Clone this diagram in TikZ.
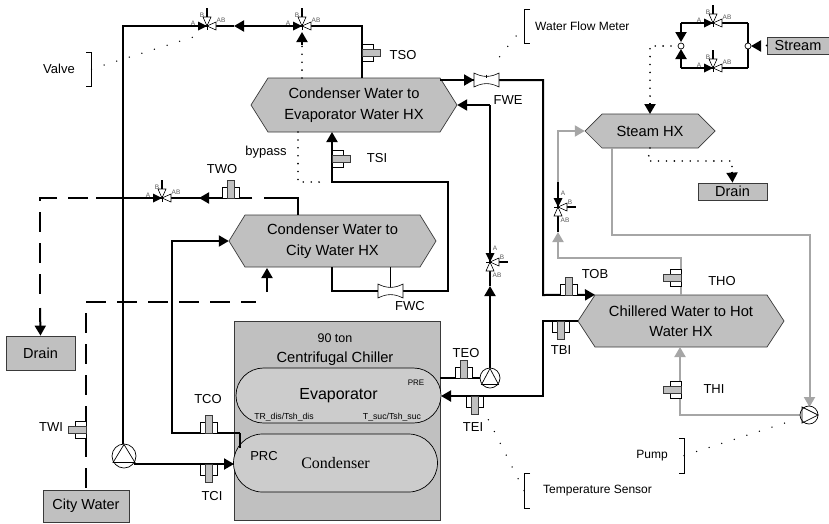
\documentclass[tikz,border=0pt]{standalone}
\usepackage{fontspec}
\setmainfont{Liberation Sans}
\newfontfamily\serifcond{Liberation Serif}
\usetikzlibrary{arrows.meta,shapes.misc}
\definecolor{hxgray}{HTML}{C0C0C0}
\definecolor{pillgray}{HTML}{CCCCCC}
\definecolor{hotpipe}{HTML}{A6A6A6}
\definecolor{edgegray}{HTML}{3A3A3A}
\tikzset{
  pipe/.style={line width=2pt,black},
  hotline/.style={line width=2pt,hotpipe},
  head/.style={-{Triangle[length=10pt,width=11pt]}},
  dashpipe/.style={line width=2pt,black,dash pattern=on 20pt off 11pt},
  dotline/.style={line width=1.8pt,black,line cap=round,dash pattern=on 0pt off 7.9pt},
  leaderdots/.style={line width=1.5pt,black,line cap=round,dash pattern=on 0pt off 13.2pt},
  bracketline/.style={line width=0.7pt,black},
  lab/.style={font=\fontsize{13}{15}\selectfont,inner sep=0pt},
  hxtext/.style={font=\fontsize{14.7}{20.5}\selectfont,align=center,inner sep=0pt},
  hxbody/.style={fill=hxgray,draw=edgegray,line width=0.7pt},
  boxnode/.style={fill=hxgray,draw=edgegray,line width=0.8pt,inner sep=0pt,font=\fontsize{14.5}{17}\selectfont},
  pill/.style={rounded rectangle,fill=pillgray,draw=black,line width=0.7pt,inner sep=0pt},
  sens/.style={draw=black,fill=white,line width=0.7pt},
  sensg/.style={draw=edgegray,fill=hxgray,line width=0.7pt},
  vlab/.style={font=\fontsize{6.5}{7}\selectfont,text=black!65,inner sep=0pt},
  tri/.style={draw=black,fill=white,line width=0.6pt},
  blk/.style={fill=black},
  pumpc/.style={circle,draw=black,fill=white,line width=0.7pt,inner sep=0pt},
  sensor/.pic={
    \draw[sens] (-8.5,0) rectangle (8.5,-11);
    \draw[sensg] (-3.5,0) rectangle (3.5,-18);
  },
  valveh/.pic={
    \draw[line width=2pt] (0,-9) -- (0,-18);
    \fill[blk] (-9,-4.5) -- (-9,4.5) -- (0,0) -- cycle;
    \draw[tri] (0,0) -- (-4,-9) -- (4,-9) -- cycle;
    \draw[tri] (0,0) -- (9,-4) -- (9,4) -- cycle;
    \draw[line width=0.5pt] (0,-2) -- (0,4);
    \node[vlab] at (-14,-3) {A};
    \node[vlab] at (-5,-11) {B};
    \node[vlab] at (14,-6) {AB};
  },
  valvev/.pic={
    \draw[line width=2pt] (9,0) -- (18,0);
    \fill[blk] (-4.5,-9) -- (4.5,-9) -- (0,0) -- cycle;
    \draw[tri] (0,0) -- (9,-4) -- (9,4) -- cycle;
    \draw[tri] (0,0) -- (-4,9) -- (4,9) -- cycle;
    \draw[line width=0.5pt] (-4,0) -- (2,0);
    \node[vlab] at (5,-14) {A};
    \node[vlab] at (12,-5) {B};
    \node[vlab] at (7,13) {AB};
  },
  meter/.pic={
    \draw[tri] (-12.5,-7) .. controls (-4,-2.5) and (4,-2.5) .. (12.5,-7) -- (12.5,7)
      .. controls (4,2.5) and (-4,2.5) .. (-12.5,7) -- cycle;
  },
}
\newcommand{\hexnode}[7]{%
  \draw[hxbody] ({#2-#4/2},#3) -- ({#2-#4/2+#6},{#3-#5/2}) -- ({#2+#4/2-#6},{#3-#5/2})
    -- ({#2+#4/2},#3) -- ({#2+#4/2-#6},{#3+#5/2}) -- ({#2-#4/2+#6},{#3+#5/2}) -- cycle;
  \node[hxtext,minimum width=#4 pt,minimum height=#5 pt] (#1) at (#2,#3) {#7};
}
\newcommand{\pumpup}[3]{% name, position, radius
  \node[pumpc,minimum size=#3 pt] (#1) at #2 {};
}
\begin{document}
\begin{tikzpicture}[x=1pt,y=-1pt]
\useasboundingbox (0,0) rectangle (829,523);

% ---------- vessels and heat exchangers
\hexnode{hxa}{354}{105}{206}{54}{17}{Condenser Water to\\Evaporator Water HX}
\hexnode{hxb}{332.5}{241}{207}{52}{16}{Condenser Water to\\City Water HX}
\hexnode{hxs}{650}{131}{130}{34}{17}{Steam HX}
\hexnode{hxc}{681}{321}{206}{52}{17}{Chillered Water to Hot\\Water HX}

\node[boxnode,minimum width=69pt,minimum height=34pt] (drainl) at (40.5,353) {Drain};
\node[boxnode,minimum width=86pt,minimum height=32pt] (city) at (86,506) {City Water};
\node[boxnode,minimum width=69pt,minimum height=17pt] (drainr) at (732.5,191.5) {Drain};
\node[boxnode,minimum width=62pt,minimum height=17pt] (stream) at (798,45.5) {Stream};

\node[fill=hxgray,draw=edgegray,line width=0.8pt,minimum width=206pt,minimum height=199pt,inner sep=0pt] (chiller) at (337,420.5) {};
\node[hxtext] (chilltxt) at (335,349.5) {\fontsize{12.5}{17}\selectfont 90 ton\\Centrifugal Chiller};
\node[pill,minimum width=205pt,minimum height=55pt,font=\fontsize{16}{18}\selectfont] (evap) at (338.5,395.5) {Evaporator};
\node[pill,minimum width=204pt,minimum height=58pt,font=\serifcond\fontsize{16}{18}\selectfont] (cond) at (335.5,463) {Condenser};
\node[font=\fontsize{8}{9}\selectfont,inner sep=0pt] (pre) at (416,383) {PRE};
\node[font=\fontsize{8.7}{10}\selectfont,inner sep=0pt] (trdis) at (284,417) {TR\_dis/Tsh\_dis};
\node[font=\fontsize{8.7}{10}\selectfont,inner sep=0pt] (tsuc) at (392,417) {T\_suc/Tsh\_suc};
\node[lab] (prc) at (264,456) {PRC};

% ---------- named points
\coordinate (topl) at (123,26);
\coordinate (topr) at (362,26);
\coordinate (hxatop) at (362,78);
\coordinate (va) at (207,26);
\coordinate (vb) at (302,26);
\coordinate (vbarrow) at (234,26);
\coordinate (vw) at (162,198);
\coordinate (twarrow) at (199,198);
\coordinate (hxbout) at (298,215);
\coordinate (dashr) at (264,198);
\coordinate (dashcorner) at (298,198);
\coordinate (soliddr) at (252,198);
\coordinate (soliddl) at (96,198);
\coordinate (dashl) at (88,198);
\coordinate (dashll) at (40,198);
\coordinate (dashbot) at (40,296);
\coordinate (drainfrom) at (40,308);
\coordinate (cityc) at (86,302);
\coordinate (cityend) at (256,302);
\coordinate (cityup) at (267,292);
\coordinate (cityhx) at (267,268);
\coordinate (tcoc) at (172,433);
\coordinate (tcoe) at (240,433);
\coordinate (tcoin) at (240,448);
\coordinate (hxbup) at (172,241);
\coordinate (pumpout) at (134,464);
\coordinate (condin) at (234,464);
\coordinate (hxbo2) at (332,267);
\coordinate (fwcl) at (332,291);
\coordinate (fwcr) at (448,291);
\coordinate (tsit) at (448,182);
\coordinate (tsil) at (332,182);
\coordinate (hxain) at (332,132);
\coordinate (fwc) at (390.5,291);
\coordinate (fwcs) at (390.5,267);
\coordinate (fwe) at (486.5,80);
\coordinate (hxaor) at (440,80);
\coordinate (fwearrow) at (474,80);
\coordinate (fwer) at (543,80);
\coordinate (fwed) at (543,295);
\coordinate (ret) at (490,105);
\coordinate (vr) at (490,262);
\coordinate (retarrow) at (490,286);
\coordinate (teol) at (440,378);
\coordinate (tbir) at (543,321);
\coordinate (tbid) at (543,396);
\coordinate (evapin) at (441,396);
\coordinate (vs) at (558,207);
\coordinate (vsout) at (558,182);
\coordinate (hotup) at (558,258);
\coordinate (hotarrow) at (558,232);
\coordinate (hotc) at (558,131);
\coordinate (thotop) at (681,295);
\coordinate (thoc) at (681,258);
\coordinate (hso) at (612,148);
\coordinate (hsb) at (612,235);
\coordinate (hsr) at (809.5,235);
\coordinate (hsd) at (809.5,407);
\coordinate (thib) at (680,415);
\coordinate (hxcin) at (680,347);
\coordinate (vsa) at (713,23);
\coordinate (vsb) at (713,68);
\coordinate (ltop) at (681,23);
\coordinate (rtop) at (748,23);
\coordinate (lbot) at (681,68);
\coordinate (rbot) at (748,68);
\coordinate (dotl) at (650,46);
\coordinate (dotg) at (671,46);
\coordinate (dotf) at (650,114);
\coordinate (dsa) at (650,148);
\coordinate (dsb) at (648,161);
\coordinate (dsc) at (732,161);
\coordinate (bypassb) at (298,132);
\coordinate (bypassc) at (298,182);
\coordinate (bypassd) at (323,182);
\coordinate (tdot) at (302,78);
\coordinate (tdote) at (302,45);

% ---------- city water (dashed)
\draw[dashpipe,dash phase=29pt] (city.north -| cityc) -- (cityc) -- (cityend);
\draw[pipe,head] (cityup) -- (cityhx);

% ---------- main black pipes
\draw[pipe] (vb) -- (topr) -- (hxatop);
\draw[pipe,head] (vb) -- (vbarrow);
\draw[pipe] (vbarrow) -- (va);
\draw[pipe] (va) -- (topl) -- (123,444);
\draw[pipe] (hxbout) -- (dashcorner) -- (dashr);
\draw[pipe] (soliddr) -- (twarrow);
\draw[pipe,head] (soliddr) -- (twarrow);
\draw[pipe] (twarrow) -- (soliddl);
\draw[dashpipe] (dashl) -- (dashll) -- (dashbot);
\draw[pipe,head] (drainfrom) -- (drainl.north);
\draw[pipe,head] (tcoe) -- (tcoc) -- (hxbup) -- (hxb.west);
\draw[pipe] (tcoe) -- (tcoin);
\draw[pipe,head] (pumpout) -- (condin);
\draw[pipe,head] (hxbo2) -- (fwcl) -- (fwcr) -- (tsit) -- (tsil) -- (hxain);
\draw[line width=0.7pt] (fwcs) -- (fwc);
\draw[pipe] (hxaor) -- (fwe);
\draw[pipe,head] (hxaor) -- (fwearrow);
\draw[pipe,head] (fwe) -- (fwer) -- (fwed) -- (hxc.north west -| 595,295);
\draw[pipe,head] (ret) -- (hxa.east);
\draw[pipe] (ret) -- (vr);
\draw[pipe,head] (490,368) -- (retarrow);
\draw[pipe] (retarrow) -- (vr);
\draw[pipe] (teol) -- (490,378);
\draw[pipe,head] (hxc.west) -- (tbir) -- (tbid) -- (evapin);
\draw[pipe] (vsout) -- (hotarrow);

% ---------- hot water loop
\draw[hotline,head] (vsout) -- (hotc) -- (hxs.west);
\draw[hotline,head] (thotop) -- (thoc) -- (hotup) -- (hotarrow);
\draw[hotline,head] (hso) -- (hsb) -- (hsr) -- (hsd);
\draw[hotline,head] (800,415) -- (thib) -- (hxcin);

% ---------- steam bypass
\draw[pipe] (rtop) -- (ltop);
\draw[pipe,head] (ltop) -- (681,42);
\draw[pipe] (rbot) -- (lbot);
\draw[pipe,head] (lbot) -- (681,49);
\draw[pipe] (rtop) -- (rbot);
\draw[dotline] (dotg) -- (dotl) -- (650,103);
\draw[black,head,line width=2pt] (650,103) -- (dotf);
\draw[dotline] (dsa) -- (dsb) -- (dsc) -- (732,172);
\draw[black,head,line width=2pt] (732,172) -- (drainr.north);
\draw[dotline] (stream.west) -- (760,46);
\draw[black,head,line width=2pt] (760,46) -- (751,46);
\node[pumpc,minimum size=6pt] (ja) at (681,46) {};
\node[pumpc,minimum size=6pt] (jb) at (748,46) {};

% ---------- dotted control lines
\draw[dotline] (bypassb) -- (bypassc) -- (bypassd);
\draw[dotline] (tdot) -- (tdote);
\draw[black,head,line width=2pt] (tdote) -- (vb |- 0,32);

% ---------- meters, valves, sensors
\pic at (fwc) {meter};
\pic at (fwe) {meter};
\draw[line width=0.6pt] (486.5,74.5) -- (486.5,78);
\pic at (va) {valveh};
\pic at (vb) {valveh};
\pic at (vw) {valveh};
\pic at (vsa) {valveh};
\pic at (vsb) {valveh};
\pic at (vr) {valvev};
\pic at (vs) {valvev};
\pic at (362,52.5) [rotate=-90] {sensor};
\pic at (332,158.5) [rotate=-90] {sensor};
\pic at (231,198) {sensor};
\pic at (86,430) [rotate=90] {sensor};
\pic at (208.5,433) {sensor};
\pic at (208.5,464) [rotate=180] {sensor};
\pic at (464,378) {sensor};
\pic at (474.5,396) [rotate=180] {sensor};
\pic at (568.5,295) {sensor};
\pic at (560.5,321) [rotate=180] {sensor};
\pic at (681,278) [rotate=90] {sensor};
\pic at (681,390) [rotate=90] {sensor};

% ---------- pumps
\node[pumpc,minimum size=24pt] (pa) at (124,456) {};
\draw[line width=0.7pt] (124,444.5) -- (113,462.5) -- (135,462.5) -- cycle;
\node[pumpc,minimum size=20pt] (pb) at (490,378) {};
\draw[line width=0.7pt] (490,368.5) -- (481.5,384.5) -- (498.5,384.5) -- cycle;
\node[pumpc,minimum size=18pt] (pc) at (809,415) {};
\draw[line width=0.7pt] (818,415) -- (802,407) -- (802,423) -- cycle;

% ---------- labels
\node[lab] (ltso) at (403,55) {TSO};
\node[lab] (ltsi) at (377,158) {TSI};
\node[lab] (ltwo) at (222,169) {TWO};
\node[lab] (lbyp) at (266,152) {bypass};
\node[lab] (lfwc) at (410,306) {FWC};
\node[lab] (lfwe) at (508,100) {FWE};
\node[lab] (ltwi) at (51,427) {TWI};
\node[lab] (ltco) at (208,399) {TCO};
\node[lab] (ltci) at (212,496) {TCI};
\node[lab] (lteo) at (466,353) {TEO};
\node[lab] (ltei) at (473,427) {TEI};
\node[lab] (ltbi) at (561,350) {TBI};
\node[lab] (ltob) at (595,274) {TOB};
\node[lab] (ltho) at (722,281) {THO};
\node[lab] (lthi) at (714,389) {THI};
\node[lab] (lvalve) at (59,69) {Valve};
\node[lab,font=\fontsize{12}{14}\selectfont,anchor=west] (lwfm) at (535,26) {Water Flow Meter};
\node[lab,font=\fontsize{12}{14}\selectfont,anchor=west] (ltemp) at (543,491) {Temperature Sensor};
\node[lab,font=\fontsize{12}{14}\selectfont] (lpump) at (652,456) {Pump};

% ---------- annotation brackets with leader dots
\coordinate (brv) at (91.5,69);
\coordinate (brw) at (524,26);
\coordinate (brt) at (524,490.5);
\coordinate (brp) at (684,455.5);
\draw[bracketline] (86,52) -- (91.5,52) -- (91.5,86) -- (86,86);
\draw[bracketline] (530,9) -- (524,9) -- (524,43) -- (530,43);
\draw[bracketline] (530,473) -- (524,473) -- (524,508) -- (530,508);
\draw[bracketline] (679,438) -- (684,438) -- (684,473) -- (679,473);
\draw[leaderdots] (brv) -- (203,34);
\draw[leaderdots] (516,36) -- (497,60);
\draw[leaderdots] (brt) -- (488,419);
\draw[leaderdots] (brp) -- (797,419);
\end{tikzpicture}
\end{document}
